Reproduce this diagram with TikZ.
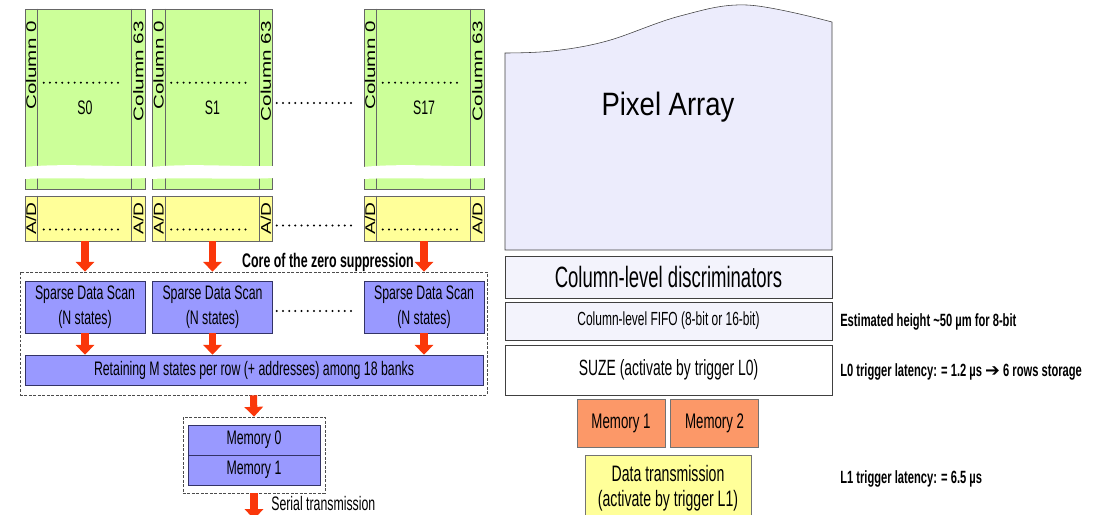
\documentclass[tikz,border=0pt]{standalone}
\usepackage{fontspec}
\setmainfont{Liberation Sans}
\newfontfamily\narrowfont{Liberation Sans}[FakeStretch=0.63]
\newfontfamily\midfont{Liberation Sans}[FakeStretch=0.85]
\newfontfamily\symfont{DejaVu Sans}
\usepackage{graphicx}
\usepackage{xcolor}
\usetikzlibrary{arrows.meta,positioning,calc}

\definecolor{cellgreen}{RGB}{204,255,153}
\definecolor{adyellow}{RGB}{255,255,153}
\definecolor{scanblue}{RGB}{153,153,255}
\definecolor{scanedge}{RGB}{51,51,102}
\definecolor{arrowred}{RGB}{250,55,10}
\definecolor{memorange}{RGB}{252,152,104}
\definecolor{pixlav}{RGB}{236,236,252}
\definecolor{barlav}{RGB}{243,243,252}

\begin{document}
\begin{tikzpicture}[
  x=0.025cm, y=-0.025cm,
  font=\narrowfont\fontsize{13.9}{18}\selectfont,
  cellblk/.style={draw=black!60, fill=cellgreen, minimum width=3cm, minimum height=4.5cm, inner sep=0pt},
  adcblk/.style={draw=black!60, fill=adyellow, minimum width=3cm, minimum height=1.125cm, inner sep=0pt},
  scan/.style={draw=scanedge, fill=scanblue, minimum width=3cm, minimum height=1.3cm, align=center, inner sep=0pt},
  grp/.style={draw=black!70, dash pattern=on 2pt off 1.2pt, inner sep=0pt},
  rbox/.style={draw=black!75, fill=barlav, minimum width=8.175cm, inner sep=0pt},
  membox/.style={draw=black!55, fill=memorange, minimum width=2.2cm, minimum height=1.2cm, inner sep=0pt,
                 font=\narrowfont\fontsize{15}{18}\selectfont},
  note/.style={anchor=west, inner sep=0pt, font=\narrowfont\bfseries\fontsize{12.6}{15}\selectfont},
  colt/.style={rotate=90, inner sep=0pt, font=\rmfamily\fontsize{10}{10}\selectfont},
  dotrow/.style={line width=1.6pt, line cap=round, dash pattern=on 0pt off 4.4pt},
  ra/.style={draw=arrowred, line width=5pt, -{Triangle[length=7pt,width=13pt]}}
]
\useasboundingbox (0,0) rectangle (1102,514);
\clip (0,0) rectangle (1102,514);
% pixel sections
\node[cellblk] (s0)  at (85,99)    {};
\node[cellblk] (s1)  at (212.5,99) {};
\node[cellblk] (s17) at (424,99)   {};
% A/D row
\node[adcblk] (ad0)  at (85,218.5)    {};
\node[adcblk] (ad1)  at (212.5,218.5) {};
\node[adcblk] (ad17) at (424,218.5)   {};
\foreach \b/\a/\t in {s0/ad0/S0, s1/ad1/S1, s17/ad17/S17} {
  \draw[black!60] ($(\b.north west)+(13,0)$) -- ($(\b.south west)+(13,0)$)
                  ($(\b.north east)+(-14,0)$) -- ($(\b.south east)+(-14,0)$)
                  ($(\a.north west)+(13,0)$) -- ($(\a.south west)+(13,0)$)
                  ($(\a.north east)+(-14,0)$) -- ($(\a.south east)+(-14,0)$);
  \fill[white] ($(\b.west)+(-1,68)$) .. controls +(40,-4) and +(-40,1) .. ($(\b.east)+(1,67)$)
     -- ($(\b.east)+(1,79)$) .. controls +(-40,2) and +(40,-2) .. ($(\b.west)+(-1,80)$) -- cycle;
  \node[colt, anchor=west] (\b-c0)  at ($(\b.north west)+(6.5,101)$) {\resizebox{2.2cm}{\height}{Column 0}};
  \node[colt, anchor=west] (\b-c63) at ($(\b.north east)+(-7,113)$)  {\resizebox{2.5cm}{\height}{Column 63}};
  \node (\b-lab) at ($(\b)+(0,9)$) {\t};
  \draw[dotrow] ($(\b.north west)+(19,74)$) -- ($(\b.north east)+(-22,74)$);
  \node[colt] (\a-l) at ($(\a.west)+(6.5,0)$) {\resizebox{0.8cm}{\height}{A/D}};
  \node[colt] (\a-r) at ($(\a.east)+(-7,0)$)  {\resizebox{0.8cm}{\height}{A/D}};
  \draw[dotrow] ($(\a.west)+(19,11)$) -- ($(\a.east)+(-22,11)$);
}
\draw[dotrow] ($(s1.east)+(4,4)$)  -- ($(s17.west)+(-8,4)$);
\draw[dotrow] ($(ad1.east)+(4,7)$) -- ($(ad17.west)+(-8,7)$);
% zero suppression core
\node[grp, minimum width=11.675cm, minimum height=3.075cm] (core) at (253.5,333.5) {};
\node[font=\narrowfont\bfseries\fontsize{14}{16}\selectfont] (corelab) at (328,262) {Core of the zero suppression};
\node[scan] (sds0)  at (85,307)    {Sparse Data Scan\\(N states)};
\node[scan] (sds1)  at (212.5,307) {Sparse Data Scan\\(N states)};
\node[scan] (sds17) at (424,307)   {Sparse Data Scan\\(N states)};
\draw[dotrow] ($(sds1.east)+(4,4)$) -- ($(sds17.west)+(-8,4)$);
\node[scan, minimum width=11.45cm, minimum height=0.75cm] (ret) at (254,370)
  {Retaining M states per row (+ addresses) among 18 banks};
% memories
\node[grp, minimum width=3.55cm, minimum height=1.9cm] (memgrp) at (254,455) {};
\node[scan, minimum width=3.3cm, minimum height=0.75cm] (m0) at (254,440) {Memory 0};
\node[scan, minimum width=3.3cm, minimum height=0.75cm] (m1) at (254,470) {Memory 1};
\coordinate (serout) at (254,519);
\node[anchor=west, inner sep=0pt] (serial) at (271,504) {Serial transmission};
% arrows
\draw[ra] (ad0.south)  -- (ad0.south |- core.north);
\draw[ra] (ad1.south)  -- (ad1.south |- core.north);
\draw[ra] (ad17.south) -- (ad17.south |- core.north);
\draw[ra] (sds0.south)  -- (sds0.south |- ret.north);
\draw[ra] (sds1.south)  -- (sds1.south |- ret.north);
\draw[ra] (sds17.south) -- (sds17.south |- ret.north);
\draw[ra] (core.south) -- (memgrp.north);
\draw[ra] (memgrp.south) -- (serout);
% pixel array side
\draw[black!75, fill=pixlav] (505,250) -- plot[smooth, tension=0.6]
  coordinates {(505,53) (552,51) (607,41) (680,16) (747,5) (832,22)} -- (832,250) -- cycle;
\node[font=\midfont\fontsize{23}{26}\selectfont] (pix) at (668,107) {Pixel Array};
\node[rbox, minimum height=1.05cm, font=\narrowfont\fontsize{20.9}{24}\selectfont] (disc) at (668.5,277)
  {Column-level discriminators};
\node[rbox, minimum height=0.95cm, font=\narrowfont\fontsize{13.5}{16}\selectfont] (fifo) at (668.5,321)
  {Column-level FIFO (8-bit or 16-bit)};
\node[rbox, fill=white, minimum height=1.25cm, font=\narrowfont\fontsize{15.7}{18}\selectfont] (suze) at (668.5,370)
  {SUZE (activate by trigger L0)};
\node[membox] (mrone) at (621,423) {Memory 1};
\node[membox, right=0.125cm of mrone] (mrtwo) {Memory 2};
\node[draw=black!55, fill=adyellow, minimum width=4.15cm, minimum height=1.65cm, align=center,
      font=\narrowfont\fontsize{15.9}{18}\selectfont] (dtx) at (668,488)
  {Data transmission\\(activate by trigger L1)};
% notes
\node[note] (est)   at (840,322) {Estimated height \textasciitilde50 µm for 8-bit};
\node[note] (lzero) at (840,372) {L0 trigger latency: = 1.2 µs {\symfont\bfseries ➔} 6 rows storage};
\node[note] (lone)  at (840,479) {L1 trigger latency: = 6.5 µs};
\end{tikzpicture}
\end{document}
